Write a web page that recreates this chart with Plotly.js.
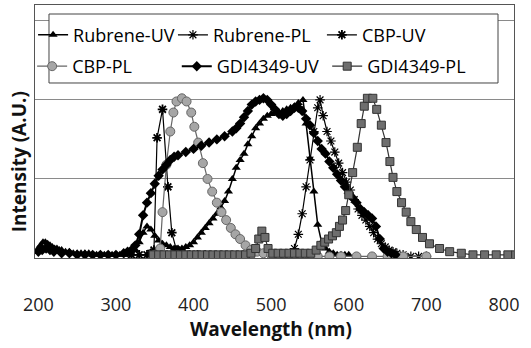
<!DOCTYPE html>
<html>
<head>
<meta charset="utf-8">
<script src="https://cdn.plot.ly/plotly-3.0.1.min.js"></script>
<style>html,body{margin:0;padding:0;background:#fff;}#chart{width:531px;height:348px;}</style>
</head>
<body>
<div id="chart"></div>
<script>
// ---- data ----
const seriesNames = ["Rubrene-UV", "Rubrene-PL", "CBP-UV", "CBP-PL", "GDI4349-UV", "GDI4349-PL"];
const xTicks = [200, 300, 400, 500, 600, 700, 800];

const rubreneUV_x = [200,203,206,209,212,215,218,221,224,227,230,235,240,245,250,255,260,265,270,275,280,285,290,295,300,305,310,315,320,325,330,335,340,345,350,355,360,365,370,375,380,385,390,395,400,405,410,415,420,425,430,435,440,445,450,455,460,465,470,475,480,485,490,495,500,505,510,515,520,525,530,535,541,545,550,555,560,565,570,575,580,585,590,595,600];
const rubreneUV_y = [0.06,0.08,0.10,0.10,0.09,0.08,0.07,0.06,0.06,0.05,0.05,0.04,0.04,0.03,0.03,0.03,0.03,0.03,0.02,0.02,0.02,0.02,0.02,0.02,0.02,0.02,0.02,0.02,0.03,0.05,0.10,0.16,0.20,0.18,0.14,0.11,0.09,0.08,0.07,0.06,0.06,0.06,0.07,0.08,0.10,0.13,0.16,0.19,0.22,0.25,0.28,0.32,0.36,0.42,0.50,0.57,0.62,0.66,0.72,0.77,0.82,0.85,0.88,0.90,0.91,0.92,0.92,0.93,0.94,0.95,0.96,0.98,1.00,0.85,0.63,0.42,0.21,0.10,0.06,0.04,0.03,0.02,0.02,0.02,0.02];

const rubrenePL_x = [520,525,530,535,540,545,550,555,560,563,567,572,577,582,587,592,597,602,607,612,617,622,627,632,637,642,647,652,657,662,670,680,690,700];
const rubrenePL_y = [0.01,0.02,0.06,0.15,0.28,0.45,0.62,0.80,0.95,1.00,0.90,0.80,0.74,0.67,0.60,0.54,0.48,0.43,0.37,0.31,0.27,0.24,0.20,0.16,0.12,0.09,0.07,0.05,0.04,0.03,0.02,0.01,0.01,0.01];

const cbpUV_x = [320,330,340,345,349,353,360,367,372,378,385,395,405,415];
const cbpUV_y = [0.02,0.02,0.02,0.03,0.05,0.76,0.94,0.45,0.16,0.05,0.03,0.02,0.02,0.02];

const cbpPL_x = [350,357,360,365,370,374,378,385,391,397,401,406,412,418,424,430,436,442,448,454,460,467,474,482,490,500,510,520,530,540,550,560,575,590,610,630,650,670,700];
const cbpPL_y = [0.02,0.06,0.29,0.59,0.80,0.92,0.99,1.01,0.99,0.92,0.83,0.73,0.60,0.50,0.42,0.35,0.29,0.24,0.19,0.15,0.12,0.08,0.05,0.04,0.03,0.02,0.02,0.02,0.02,0.01,0.01,0.01,0.01,0.01,0.01,0.01,0.01,0.01,0.01];

const gdiUV_x = [200,205,210,215,220,230,240,250,260,270,280,290,300,310,315,320,325,330,335,340,345,350,355,360,365,370,375,380,390,400,410,420,430,440,450,455,460,465,470,475,480,485,490,495,500,505,510,515,520,525,530,535,540,545,550,555,560,565,570,575,580,585,590,595,600,605,610,615,620,625,630,635,640,645,650,655,660];
const gdiUV_y = [0.04,0.05,0.06,0.05,0.04,0.03,0.03,0.02,0.02,0.02,0.02,0.02,0.02,0.03,0.04,0.05,0.08,0.15,0.27,0.35,0.41,0.47,0.52,0.56,0.59,0.62,0.64,0.65,0.67,0.69,0.71,0.73,0.75,0.77,0.80,0.82,0.85,0.89,0.93,0.97,0.99,1.00,1.01,1.00,0.97,0.94,0.91,0.90,0.91,0.93,0.95,0.95,0.93,0.88,0.84,0.79,0.74,0.69,0.66,0.61,0.57,0.53,0.49,0.45,0.41,0.38,0.35,0.31,0.29,0.27,0.25,0.20,0.12,0.06,0.04,0.03,0.02];

const gdiPL_x = [348,355,362,369,376,383,390,397,404,411,418,425,432,439,446,453,460,467,474,480,484,488,492,496,502,509,516,523,530,537,544,551,558,564,569,574,579,584,588,592,596,600,605,611,616,620,624,631,636,642,648,653,657,662,668,674,680,687,695,704,717,730,745,760,775,790,805,815];
const gdiPL_y = [0.02,0.02,0.02,0.02,0.02,0.02,0.02,0.02,0.02,0.02,0.02,0.02,0.02,0.02,0.02,0.02,0.02,0.02,0.03,0.06,0.12,0.17,0.13,0.06,0.03,0.03,0.03,0.03,0.03,0.03,0.03,0.03,0.05,0.08,0.10,0.12,0.14,0.16,0.20,0.24,0.30,0.40,0.54,0.70,0.85,0.96,1.01,1.01,0.94,0.84,0.73,0.61,0.51,0.42,0.35,0.29,0.23,0.18,0.13,0.09,0.06,0.04,0.03,0.02,0.02,0.02,0.02,0.02];

// ---- chart ----
const FONT = '"Open Sans", "Noto Sans", sans-serif';
const traces = [
  {x: rubreneUV_x, y: rubreneUV_y, name: seriesNames[0], legend: 'legend',
   mode: 'lines+markers', line: {color: '#000', width: 1.5},
   marker: {symbol: 'triangle-up', size: 8, color: '#000'}},
  {x: rubrenePL_x, y: rubrenePL_y, name: seriesNames[1], legend: 'legend2',
   mode: 'lines+markers', line: {color: '#000', width: 1.2},
   marker: {symbol: 'asterisk-open', size: 8, color: '#000', line: {color: '#000', width: 1.2}}},
  {x: cbpUV_x, y: cbpUV_y, name: seriesNames[2], legend: 'legend3',
   mode: 'lines+markers', line: {color: '#000', width: 1.2},
   marker: {symbol: 'asterisk-open', size: 8, color: '#000', line: {color: '#000', width: 1.8}}},
  {x: cbpPL_x, y: cbpPL_y, name: seriesNames[3], legend: 'legend4',
   mode: 'lines+markers', line: {color: '#666', width: 1.2},
   marker: {symbol: 'circle', size: 9, color: '#a6a6a6', line: {color: '#666', width: 1}}},
  {x: gdiUV_x, y: gdiUV_y, name: seriesNames[4], legend: 'legend5',
   mode: 'lines+markers', line: {color: '#000', width: 2},
   marker: {symbol: 'diamond', size: 8, color: '#000'}},
  {x: gdiPL_x, y: gdiPL_y, name: seriesNames[5], legend: 'legend6',
   mode: 'lines+markers', line: {color: '#333', width: 1.2},
   marker: {symbol: 'square', size: 8, color: '#6e6e6e', line: {color: '#333', width: 1}}}
];

function legendAt(x, y) {
  return {
    x: x, y: y, xanchor: 'left', yanchor: 'middle',
    bgcolor: 'rgba(0,0,0,0)', borderwidth: 0,
    font: {family: FONT, size: 18, color: '#000'},
    itemwidth: 30
  };
}

const layout = {
  width: 531, height: 348,
  margin: {l: 35, r: 17, t: 5, b: 90, pad: 0},
  paper_bgcolor: '#fff', plot_bgcolor: '#fff',
  font: {family: FONT, color: '#000'},
  showlegend: true,
  legend:  legendAt(-0.004, 0.881),
  legend2: legendAt(0.288, 0.881),
  legend3: legendAt(0.599, 0.881),
  legend4: legendAt(-0.006, 0.757),
  legend5: legendAt(0.296, 0.757),
  legend6: legendAt(0.610, 0.757),
  xaxis: {
    range: [195.7, 812.9], tickvals: xTicks, ticktext: xTicks.map(String),
    showgrid: false, zeroline: false, ticks: '',
    showline: true, linecolor: '#555', linewidth: 1, mirror: true,
    tickfont: {family: FONT, size: 18, color: '#222'},
    ticklabelstandoff: 30
  },
  yaxis: {
    range: [0, 1.6], tickvals: [0.5, 1.0, 1.5], showticklabels: false,
    showgrid: true, gridcolor: '#8a8a8a', gridwidth: 1, zeroline: false, ticks: '',
    showline: true, linecolor: '#555', linewidth: 1, mirror: true
  },
  shapes: [
    {type: 'rect', xref: 'paper', yref: 'paper', x0: 0.0292, x1: 0.9666, y0: 0.6917, y1: 0.9644,
     line: {color: '#444', width: 1}, fillcolor: '#fff', layer: 'above'}
  ],
  annotations: [
    {text: 'Wavelength (nm)', xref: 'paper', yref: 'paper', x: 0.4927, y: -0.282,
     xanchor: 'center', yanchor: 'middle', showarrow: false,
     font: {family: FONT, size: 19, color: '#111', weight: 'bold'}},
    {text: 'Intensity (A.U.)', xref: 'paper', yref: 'paper', x: -0.033, y: 0.379,
     xanchor: 'center', yanchor: 'middle', textangle: -90, showarrow: false,
     font: {family: FONT, size: 19, color: '#111', weight: 'bold'}}
  ]
};

Plotly.newPlot('chart', traces, layout, {displayModeBar: false, staticPlot: true});
</script>
</body>
</html>
